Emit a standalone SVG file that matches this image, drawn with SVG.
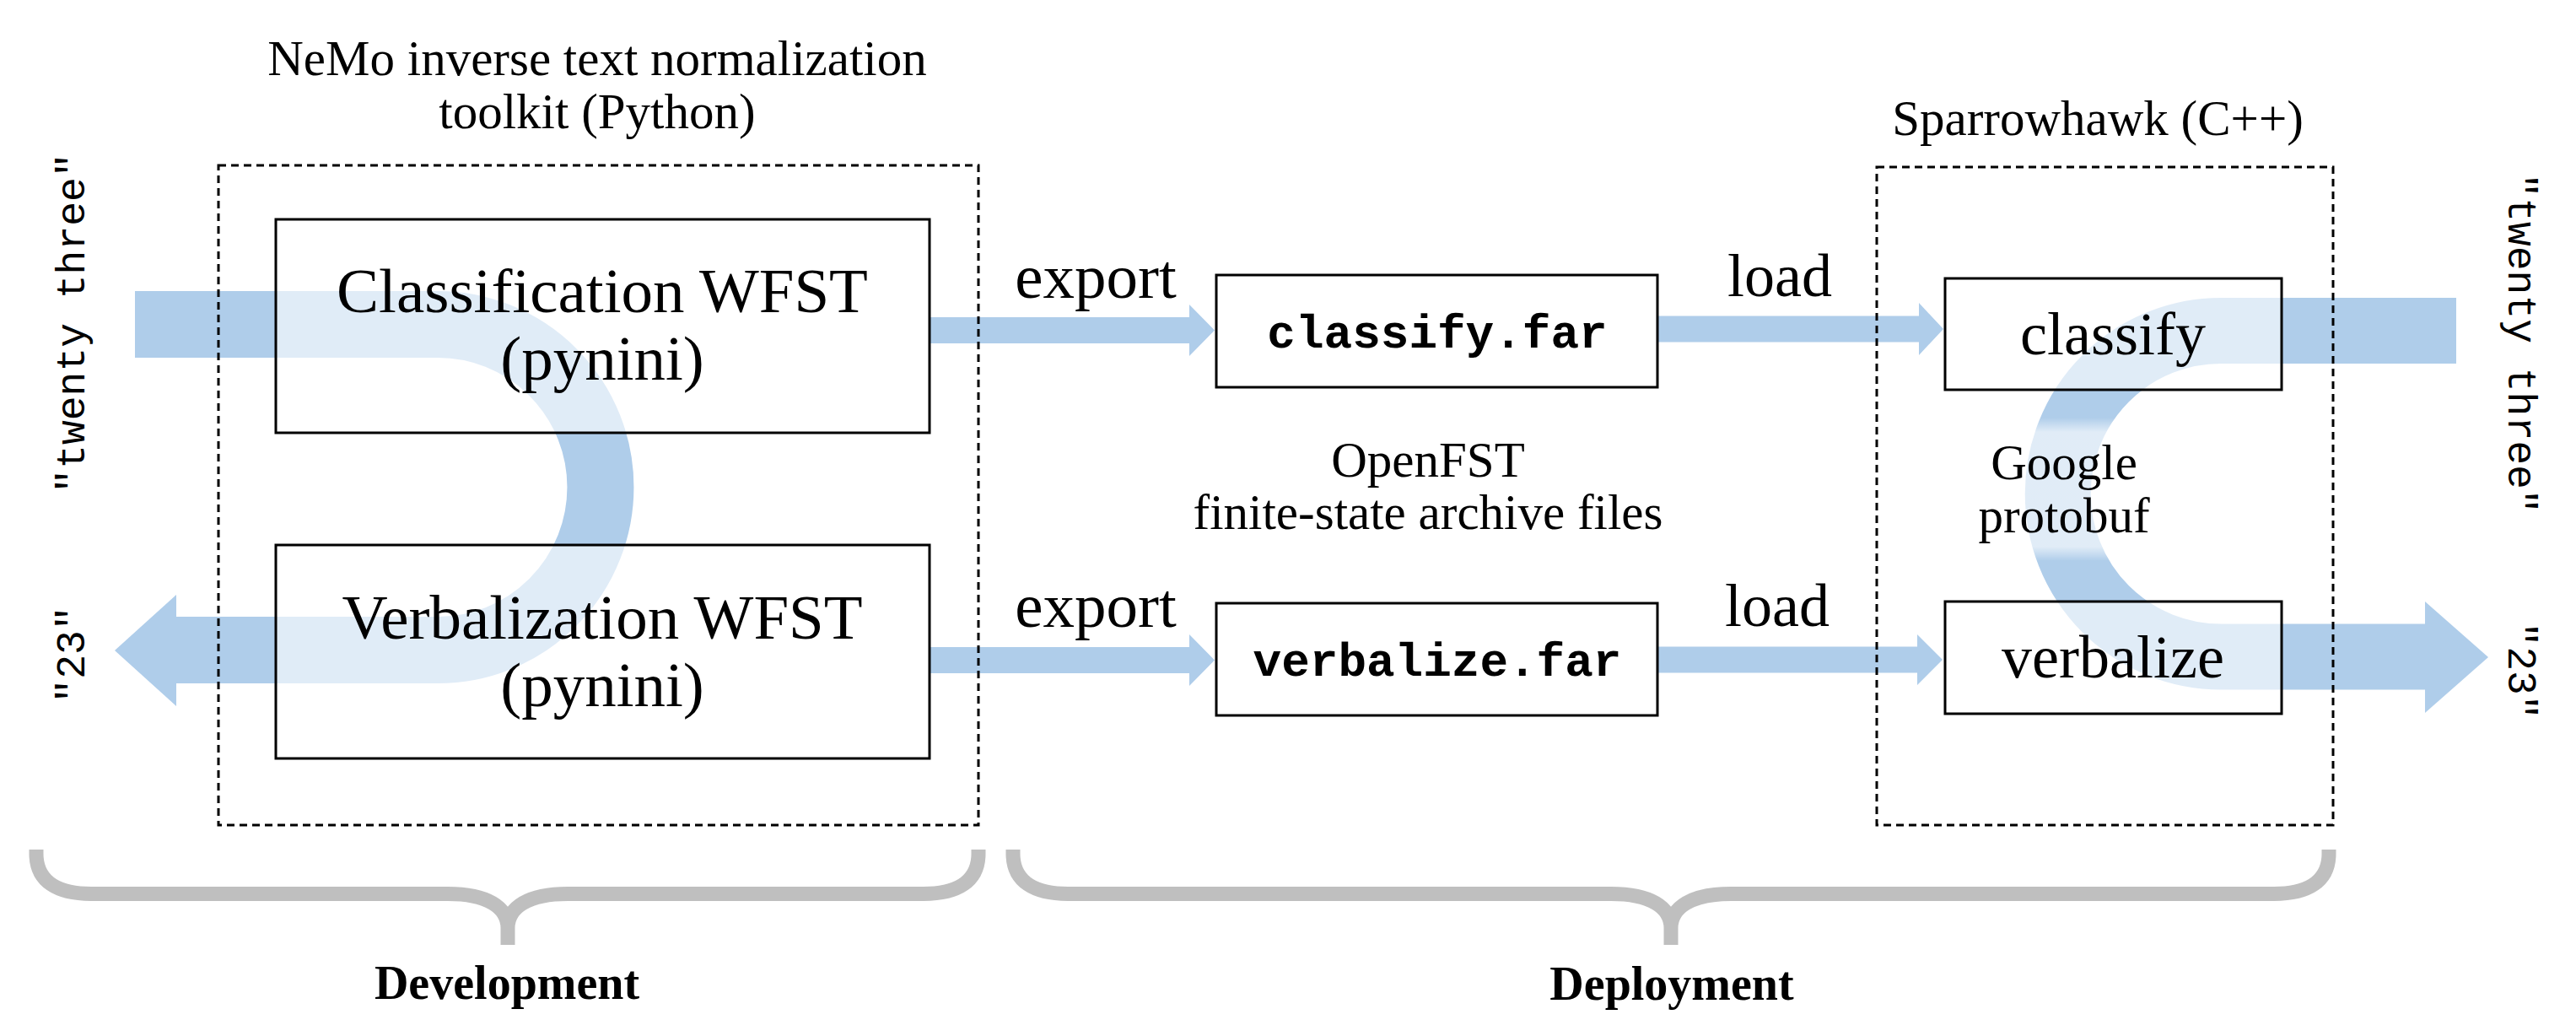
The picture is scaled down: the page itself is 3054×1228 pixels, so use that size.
<svg xmlns="http://www.w3.org/2000/svg" width="3054" height="1228" viewBox="0 0 3054 1228">
<defs>
<style>
.band{fill:none;stroke:#afcdea;stroke-width:79}
.bandr{fill:none;stroke:#afcdea;stroke-width:78}
.bandf{fill:#afcdea}
.box{fill:#ffffff;fill-opacity:0.62;stroke:#000000;stroke-width:3}
.dash{fill:none;stroke:#000000;stroke-width:3;stroke-dasharray:9 6}
.brace{fill:none;stroke:#bfbfbf;stroke-width:17}
.big{font-family:"Liberation Serif",serif;font-size:72px;text-anchor:middle;fill:#000}
.wfst{font-family:"Liberation Serif",serif;font-size:75px;text-anchor:middle;fill:#000}
.small{font-family:"Liberation Serif",serif;font-size:59px;text-anchor:middle;fill:#000}
.bold{font-family:"Liberation Serif",serif;font-size:56px;font-weight:bold;text-anchor:middle;fill:#000}
.mono{font-family:"Liberation Mono",monospace;font-size:48px;text-anchor:middle;fill:#000}
.far{font-family:"Liberation Mono",monospace;font-size:56px;font-weight:bold;text-anchor:middle;fill:#000}
</style>
<linearGradient id="fade" x1="0" y1="0" x2="0" y2="1">
<stop offset="0" stop-color="#ffffff" stop-opacity="0"/>
<stop offset="0.1" stop-color="#ffffff" stop-opacity="0.62"/>
<stop offset="0.9" stop-color="#ffffff" stop-opacity="0.62"/>
<stop offset="1" stop-color="#ffffff" stop-opacity="0"/>
</linearGradient>
</defs>
<rect x="0" y="0" width="3054" height="1228" fill="#ffffff"/>

<g id="connectors">
  <path class="band" d="M160,384.5 H519 A193,193 0 0 1 519,770.5 H208"/>
  <polygon class="bandf" points="209,705 136,771 209,837"/>
  <path class="bandr" d="M2912,392 H2633 A193.25,193.25 0 0 0 2633,778.5 H2876"/>
  <polygon class="bandf" points="2875,713 2950,779 2875,845"/>
  <polygon class="bandf" points="1102,376 1410,376 1410,361 1440,391.5 1410,422 1410,407 1102,407"/>
  <polygon class="bandf" points="1102,767 1410,767 1410,752 1440,782.5 1410,813 1410,798 1102,798"/>
  <polygon class="bandf" points="1965,374.5 2275,374.5 2275,359 2304,390 2275,421 2275,405.5 1965,405.5"/>
  <polygon class="bandf" points="1965,766.5 2273,766.5 2273,752 2303,782 2273,812 2273,797.5 1965,797.5"/>
</g>

<g id="labels-connectors">
  <text class="wfst" x="1299" y="353">export</text>
  <text class="wfst" x="1299" y="743">export</text>
  <text class="big" x="2110" y="351">load</text>
  <text class="big" x="2107" y="742">load</text>
</g>

<g id="node-classification">
  <rect class="box" x="327" y="260" width="775" height="253"/>
  <text class="wfst" x="714" y="370">Classification WFST</text>
  <text class="wfst" x="714" y="450">(pynini)</text>
</g>
<g id="node-verbalization">
  <rect class="box" x="327" y="646" width="775" height="253"/>
  <text class="wfst" x="714" y="757">Verbalization WFST</text>
  <text class="wfst" x="714" y="837">(pynini)</text>
</g>

<g id="node-classify-far">
  <rect class="box" x="1442" y="326" width="523" height="133"/>
  <text class="far" x="1704" y="412">classify.far</text>
</g>
<g id="node-verbalize-far">
  <rect class="box" x="1442" y="715" width="523" height="133"/>
  <text class="far" x="1704" y="801">verbalize.far</text>
</g>
<g id="label-openfst">
  <text class="small" x="1693" y="565">OpenFST</text>
  <text class="small" x="1693" y="627">finite-state archive files</text>
</g>

<g id="node-classify">
  <rect class="box" x="2306" y="330" width="399" height="132"/>
  <text class="big" x="2505" y="420">classify</text>
</g>
<g id="node-verbalize">
  <rect class="box" x="2306" y="713" width="399" height="133"/>
  <text class="big" x="2505" y="803">verbalize</text>
</g>
<g id="label-protobuf">
  <rect x="2330" y="495" width="240" height="170" fill="url(#fade)"/>
  <text class="small" x="2447" y="568">Google</text>
  <text class="small" x="2447" y="631">protobuf</text>
</g>

<g id="group-nemo">
  <rect class="dash" x="259" y="196" width="901" height="782"/>
  <text class="small" x="708" y="89">NeMo inverse text normalization</text>
  <text class="small" x="708" y="152">toolkit (Python)</text>
</g>
<g id="group-sparrowhawk">
  <rect class="dash" x="2225" y="198" width="541" height="780"/>
  <text class="small" x="2487" y="160">Sparrowhawk (C++)</text>
</g>

<g id="io-left">
  <text class="mono" transform="translate(100,383) rotate(-90)">"twenty three"</text>
  <text class="mono" transform="translate(100,776) rotate(-90)">"23"</text>
</g>
<g id="io-right">
  <text class="mono" transform="translate(2974,407) rotate(90)">"twenty three"</text>
  <text class="mono" transform="translate(2974,795) rotate(90)">"23"</text>
</g>

<g id="brace-development">
  <path class="brace" d="M43,1007 V1012 C43,1045 68,1059.5 108,1059.5 H531 C577,1059.5 602,1075 602,1100 V1120 M1160,1007 V1012 C1160,1045 1135,1059.5 1095,1059.5 H673 C627,1059.5 602,1075 602,1100"/>
  <text class="bold" x="601" y="1184">Development</text>
</g>
<g id="brace-deployment">
  <path class="brace" d="M1201,1007 V1012 C1201,1045 1226,1059.5 1266,1059.5 H1910 C1956,1059.5 1981,1075 1981,1100 V1120 M2761,1007 V1012 C2761,1045 2736,1059.5 2696,1059.5 H2052 C2006,1059.5 1981,1075 1981,1100"/>
  <text class="bold" x="1982" y="1185">Deployment</text>
</g>
</svg>
